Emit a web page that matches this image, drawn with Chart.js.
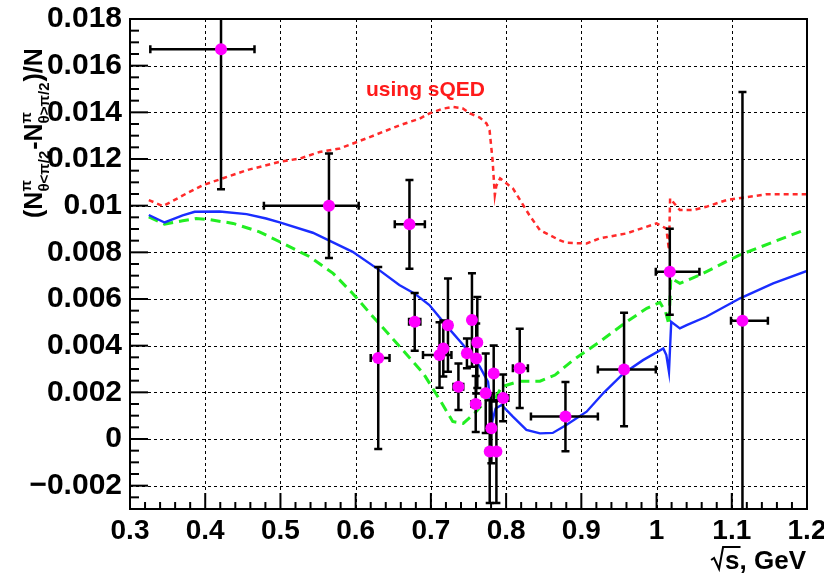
<!DOCTYPE html>
<html>
<head>
<meta charset="utf-8">
<script src="https://cdn.jsdelivr.net/npm/chart.js@4.4.1/dist/chart.umd.min.js"></script>
<style>
  html, body { margin: 0; padding: 0; background: #fff; }
  canvas { display: block; }
</style>
</head>
<body>
<canvas id="c" width="824" height="573"></canvas>
<script>
// ---- axis ticks ----
const xTickValues = [0.3, 0.4, 0.5, 0.6, 0.7, 0.8, 0.9, 1.0, 1.1, 1.2];
const xTickLabels = ['0.3', '0.4', '0.5', '0.6', '0.7', '0.8', '0.9', '1', '1.1', '1.2'];
const yTickValues = [-0.002, 0, 0.002, 0.004, 0.006, 0.008, 0.010, 0.012, 0.014, 0.016, 0.018];
const yTickLabels = ['\u22120.002', '0', '0.002', '0.004', '0.006', '0.008', '0.01', '0.012', '0.014', '0.016', '0.018'];

// ---- measured asymmetry (points with errors) ----
const ptX    = [0.421, 0.5645, 0.630, 0.6715, 0.6785, 0.7115, 0.7165, 0.7227, 0.7366, 0.7479, 0.7546, 0.7603, 0.7617, 0.7596, 0.7729, 0.7835, 0.7804, 0.7782, 0.7871, 0.7960, 0.8181, 0.8789, 0.9568, 1.0176, 1.1142];
const ptY    = [0.0167, 0.0100, 0.00347, 0.0092, 0.00502, 0.0036, 0.00388, 0.00488, 0.00224, 0.00367, 0.0051, 0.00345, 0.00414, 0.0015, 0.00196, 0.00281, 0.00046, -0.00054, -0.00054, 0.00176, 0.00303, 0.00096, 0.00298, 0.00717, 0.00507];
const ptXLo  = [0.327, 0.478, 0.620, 0.652, 0.671, 0.6895, 0.712, 0.718, 0.730, 0.744, 0.751, 0.757, 0.758, 0.754, 0.769, 0.780, 0.777, 0.775, 0.784, 0.790, 0.809, 0.833, 0.922, 0.999, 1.099];
const ptXHi  = [0.4655, 0.604, 0.645, 0.692, 0.686, 0.7273, 0.721, 0.727, 0.743, 0.752, 0.758, 0.764, 0.765, 0.765, 0.776, 0.787, 0.784, 0.781, 0.790, 0.803, 0.829, 0.922, 0.999, 1.057, 1.148];
const ptYErr = [0.0060, 0.00224, 0.0039, 0.0019, 0.00124, 0.0014, 0.0012, 0.0020, 0.0010, 0.00064, 0.0020, 0.0015, 0.00195, 0.0012, 0.0017, 0.0012, 0.0015, 0.0022, 0.0022, 0.0010, 0.0017, 0.00148, 0.00243, 0.00184, 0.0098];

// ---- model curve (solid blue) ----
const blueX = [0.325, 0.346, 0.370, 0.386, 0.419, 0.455, 0.481, 0.499, 0.543, 0.565, 0.596, 0.630, 0.658, 0.678, 0.698, 0.720, 0.743, 0.765, 0.776, 0.782, 0.786, 0.794, 0.809, 0.827, 0.845, 0.862, 0.880, 0.907, 0.929, 0.956, 0.982, 1.009, 1.013, 1.0165, 1.0195, 1.031, 1.040, 1.066, 1.111, 1.155, 1.200];
const blueY = [0.0096, 0.00928, 0.00958, 0.00974, 0.00975, 0.00964, 0.00945, 0.00928, 0.00884, 0.0085, 0.00802, 0.00727, 0.0066, 0.00624, 0.00574, 0.00488, 0.00403, 0.0031, 0.00245, 0.0008, 0.00131, 0.00146, 0.00096, 0.00039, 0.00024, 0.00026, 0.0006, 0.00117, 0.00196, 0.00281, 0.00338, 0.00388, 0.0036, 0.00288, 0.00502, 0.00474, 0.00488, 0.00524, 0.00603, 0.00667, 0.0072];

// ---- model curve (dashed green) ----
const greenX = [0.325, 0.346, 0.370, 0.388, 0.406, 0.437, 0.472, 0.508, 0.539, 0.570, 0.596, 0.623, 0.659, 0.690, 0.712, 0.729, 0.743, 0.758, 0.774, 0.781, 0.785, 0.794, 0.818, 0.845, 0.865, 0.889, 0.9245, 0.960, 0.987, 1.0045, 1.012, 1.0165, 1.019, 1.031, 1.057, 1.110, 1.200];
const greenY = [0.00952, 0.00921, 0.00935, 0.00945, 0.0094, 0.00924, 0.00888, 0.00831, 0.00781, 0.0071, 0.00624, 0.00524, 0.00395, 0.00281, 0.00167, 0.00075, 0.00067, 0.0011, 0.00167, 0.0019, 0.0017, 0.00224, 0.00248, 0.00248, 0.00274, 0.00338, 0.00417, 0.00502, 0.0056, 0.00585, 0.00545, 0.0049, 0.0069, 0.00667, 0.00702, 0.00788, 0.009];

// ---- sQED curve (dotted red) ----
const redX = [0.325, 0.344, 0.375, 0.397, 0.455, 0.499, 0.526, 0.552, 0.579, 0.614, 0.659, 0.685, 0.698, 0.715, 0.729, 0.742, 0.752, 0.765, 0.774, 0.778, 0.782, 0.785, 0.787, 0.792, 0.809, 0.831, 0.845, 0.871, 0.880, 0.907, 0.9245, 0.960, 1.000, 1.013, 1.0165, 1.018, 1.031, 1.049, 1.066, 1.093, 1.146, 1.200];
const redY = [0.01024, 0.00998, 0.01052, 0.01088, 0.01152, 0.01188, 0.01202, 0.0123, 0.01245, 0.01288, 0.01345, 0.01373, 0.01395, 0.01415, 0.01423, 0.01418, 0.01395, 0.01378, 0.01352, 0.01323, 0.01195, 0.01045, 0.01085, 0.01117, 0.01074, 0.00959, 0.00895, 0.00852, 0.00841, 0.00838, 0.0086, 0.00881, 0.00924, 0.00902, 0.0081, 0.01031, 0.00981, 0.00981, 0.00995, 0.01024, 0.01049, 0.01049];

const FONT = "'Liberation Sans', Arial, Helvetica, sans-serif";
const toPts = (xs, ys) => xs.map((x, i) => ({ x: x, y: ys[i] }));

// Frame, dotted grid and inward tick marks
const framePlugin = {
  id: 'frame',
  beforeDatasetsDraw(chart) {
    const { ctx, chartArea: a, scales: { x, y } } = chart;
    ctx.save();
    ctx.strokeStyle = '#000';
    ctx.lineWidth = 1;
    ctx.setLineDash([3, 3]);
    xTickValues.forEach(v => {
      const px = Math.round(x.getPixelForValue(v)) + 0.5;
      if (px <= a.left + 2 || px >= a.right - 2) return;
      ctx.beginPath(); ctx.moveTo(px, a.top); ctx.lineTo(px, a.bottom); ctx.stroke();
    });
    yTickValues.forEach(v => {
      const py = Math.round(y.getPixelForValue(v)) + 0.5;
      if (py <= a.top + 2 || py >= a.bottom - 2) return;
      ctx.beginPath(); ctx.moveTo(a.left, py); ctx.lineTo(a.right, py); ctx.stroke();
    });
    ctx.restore();
  },
  afterDatasetsDraw(chart) {
    const { ctx, chartArea: a, scales: { x, y } } = chart;
    ctx.save();
    ctx.strokeStyle = '#000';
    ctx.lineWidth = 2;
    ctx.setLineDash([]);
    ctx.strokeRect(a.left, a.top, a.right - a.left, a.bottom - a.top);
    // x ticks: major every 0.1, minor every 0.02
    for (let k = 0; k <= 45; k++) {
      const v = 0.3 + k * 0.02;
      const px = x.getPixelForValue(v);
      const len = (k % 5 === 0) ? 16 : 7;
      ctx.beginPath(); ctx.moveTo(px, a.bottom); ctx.lineTo(px, a.bottom - len); ctx.stroke();
    }
    // y ticks: major every 0.002, minor every 0.0005
    for (let k = 0; k <= 42; k++) {
      const v = -0.003 + k * 0.0005;
      const py = y.getPixelForValue(v);
      const len = ((k - 2) % 4 === 0) ? 18 : 9;
      ctx.beginPath(); ctx.moveTo(a.left, py); ctx.lineTo(a.left + len, py); ctx.stroke();
    }
    ctx.restore();
  }
};

// Error bars with end caps, drawn under the markers
const errorBarPlugin = {
  id: 'errbars',
  beforeDatasetDraw(chart, args) {
    if (args.index !== 3) return;
    const { ctx, chartArea: a, scales: { x, y } } = chart;
    ctx.save();
    ctx.beginPath();
    ctx.rect(a.left, a.top, a.right - a.left, a.bottom - a.top);
    ctx.clip();
    ctx.strokeStyle = '#000';
    ctx.lineWidth = 2.5;
    ctx.setLineDash([]);
    const cap = 4;
    ptX.forEach((vx, i) => {
      const px = x.getPixelForValue(vx);
      const py = y.getPixelForValue(ptY[i]);
      const x0 = x.getPixelForValue(ptXLo[i]);
      const x1 = x.getPixelForValue(ptXHi[i]);
      const y0 = y.getPixelForValue(ptY[i] + ptYErr[i]);
      const y1 = y.getPixelForValue(ptY[i] - ptYErr[i]);
      ctx.beginPath();
      ctx.moveTo(x0, py); ctx.lineTo(x1, py);
      ctx.moveTo(px, y0); ctx.lineTo(px, y1);
      ctx.moveTo(x0, py - cap); ctx.lineTo(x0, py + cap);
      ctx.moveTo(x1, py - cap); ctx.lineTo(x1, py + cap);
      ctx.moveTo(px - cap, y0); ctx.lineTo(px + cap, y0);
      ctx.moveTo(px - cap, y1); ctx.lineTo(px + cap, y1);
      ctx.stroke();
    });
    ctx.restore();
  }
};

// Axis titles and the curve annotation
const textPlugin = {
  id: 'texts',
  afterDraw(chart) {
    const { ctx } = chart;
    ctx.save();
    ctx.fillStyle = '#000';
    ctx.textBaseline = 'alphabetic';
    ctx.textAlign = 'left';

    // y title, rotated
    ctx.save();
    ctx.translate(42, 218);
    ctx.rotate(-Math.PI / 2);
    const big = 'bold 25px ' + FONT;
    const small = 'bold 15px ' + FONT;
    let cx = 0;
    const put = (t) => { ctx.font = big; ctx.fillText(t, cx, 0); cx += ctx.measureText(t).width; };
    const stack = (sup, sub) => {
      ctx.font = small;
      const w1 = ctx.measureText(sup).width, w2 = ctx.measureText(sub).width;
      ctx.fillText(sup, cx, -11);
      ctx.fillText(sub, cx, 7);
      cx += Math.max(w1, w2) + 1;
    };
    put('(N'); stack('\u03c0', '\u03b8<\u03c0/2');
    put('-N'); stack('\u03c0', '\u03b8>\u03c0/2');
    put(')/N');
    ctx.restore();

    // x title with radical over s
    ctx.font = 'bold 26px ' + FONT;
    ctx.textAlign = 'right';
    const tail = 's, GeV';
    const rightX = 806, base = 569;
    ctx.fillText(tail, rightX, base);
    const wTail = ctx.measureText(tail).width;
    const sW = ctx.measureText('s').width;
    const sx = rightX - wTail;
    ctx.lineWidth = 2;
    ctx.strokeStyle = '#000';
    ctx.beginPath();
    ctx.moveTo(sx - 14, base - 9);
    ctx.lineTo(sx - 11, base - 11);
    ctx.lineTo(sx - 6, base);
    ctx.lineTo(sx - 2, base - 22);
    ctx.lineTo(sx + sW + 1, base - 22);
    ctx.stroke();

    // annotation
    ctx.textAlign = 'left';
    ctx.fillStyle = '#ff1a1a';
    ctx.font = 'bold 21px ' + FONT;
    ctx.fillText('using sQED', 366, 96);
    ctx.restore();
  }
};

new Chart(document.getElementById('c'), {
  type: 'scatter',
  data: {
    datasets: [
      { data: toPts(redX, redY), showLine: true, borderColor: '#ff2a2a', borderWidth: 2.5, borderDash: [5, 4], pointRadius: 0, tension: 0, order: 4 },
      { data: toPts(greenX, greenY), showLine: true, borderColor: '#22ee22', borderWidth: 3, borderDash: [10, 6], pointRadius: 0, tension: 0, order: 3 },
      { data: toPts(blueX, blueY), showLine: true, borderColor: '#1a2dff', borderWidth: 2.4, pointRadius: 0, tension: 0, order: 2 },
      { data: toPts(ptX, ptY), showLine: false, pointRadius: 6, pointBackgroundColor: '#ff00ff', pointBorderColor: '#ff00ff', pointBorderWidth: 0, order: 1 }
    ]
  },
  options: {
    responsive: false,
    animation: false,
    events: [],
    layout: { padding: { left: 0, right: 17, top: 19, bottom: 0 } },
    plugins: { legend: { display: false }, tooltip: { enabled: false } },
    scales: {
      x: {
        type: 'linear', min: 0.3, max: 1.2,
        afterBuildTicks: s => { s.ticks = xTickValues.map(v => ({ value: v })); },
        afterFit: s => { s.height = 64; s.paddingLeft = 0; s.paddingRight = 0; },
        grid: { display: false, drawTicks: false },
        border: { display: false },
        ticks: {
          autoSkip: false, maxRotation: 0, padding: 5, color: '#000',
          font: { family: FONT, size: 28, weight: 'bold' },
          callback: (v, i) => xTickLabels[i]
        }
      },
      y: {
        type: 'linear', min: -0.003, max: 0.018,
        afterBuildTicks: s => { s.ticks = yTickValues.map(v => ({ value: v })); },
        afterFit: s => { s.width = 130; s.paddingTop = 0; s.paddingBottom = 0; },
        grid: { display: false, drawTicks: false },
        border: { display: false },
        ticks: {
          autoSkip: false, padding: 8, color: '#000',
          font: { family: FONT, size: 30, weight: 'bold' },
          callback: (v, i) => yTickLabels[i]
        }
      }
    }
  },
  plugins: [framePlugin, errorBarPlugin, textPlugin]
});
</script>
</body>
</html>
